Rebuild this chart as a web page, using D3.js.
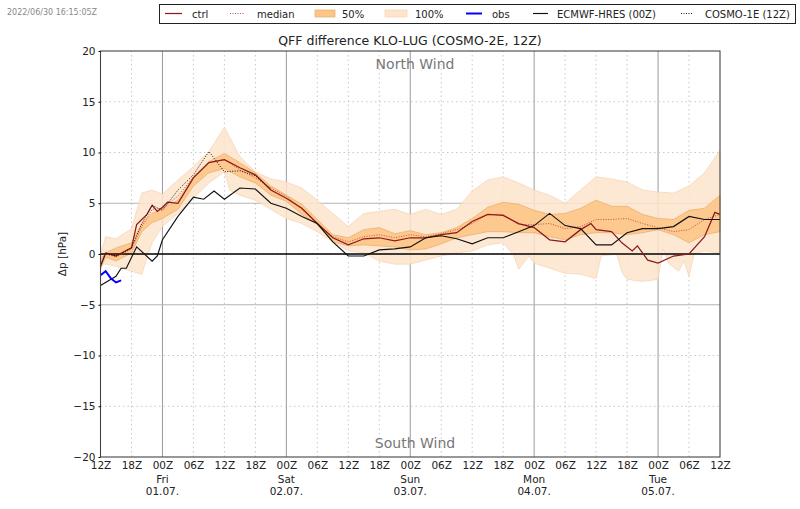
<!DOCTYPE html>
<html>
<head>
<meta charset="utf-8">
<script src="https://cdn.jsdelivr.net/npm/d3@7"></script>
<style>
  html, body { margin: 0; padding: 0; background: #fff; }
  svg { display: block; }
  text { font-family: "DejaVu Sans", sans-serif; fill: #222; }
  .domain { display: none; }
</style>
</head>
<body>
<div class="chart"></div>
<script>
// forecast hours since 30.06. 12Z
var hours = [0,1,3,6,8,10,12,15,18,21,24,27,30,33,36,39,42,45,48,51,54,57,60,63,66,69,72,75,78,81,84,87,90,93,96,99,102,105,108,111,114,117,120]
var upper100 = [0,1.7,1.5,2.5,6,6.3,5.9,7.3,8.6,10.1,12.5,9.6,8.1,7.4,7.1,6.5,5.3,4,2.7,4,4.2,4.4,3.9,4.4,3.9,4.4,6.2,7.3,7.6,7,6.3,5.8,5,6.3,7.6,7.4,7.1,6.3,6.1,6,6.7,8,10.2]
var upper50 = [-.5,.1,.6,1.1,3,4,4.5,5.3,7.6,9.1,9.9,9,8,6.7,5.8,4.9,3.4,1.9,1.6,2.4,2.6,2,2.3,1.9,2.1,2.6,3.5,4.6,5.1,4.9,4.3,3.9,4,4.5,5.3,4.7,4.7,3.9,3.5,3.4,4.3,4.5,5.8]
var lower50 = [-1.5,-.3,-.7,.1,2.2,3.1,3.5,4.4,6.7,8,8.4,7.6,7,5.8,5.2,3.9,2.9,1.2,.8,.9,.8,.7,.4,.5,1,1.6,1.9,2.2,2.2,2.1,2.1,1.7,1.4,1.9,2.1,2.1,1.9,2.1,2.4,1.9,1.1,1.9,2.2]
var median = [-1,0,-.3,.5,2.7,4.4,4.5,5.7,7.6,9,9.3,8.3,7.5,6.5,5.7,4.4,3,1.7,1.2,1.7,1.9,1.6,1.9,1.7,2,2.4,3,3.9,3.9,2.9,2.9,3,2.5,2.7,3.4,3.4,3.5,3,2.6,2.2,2.4,3.4,3.9]

var lower100Hours = [0,1,3,6,8,10,12,15,18,21,24,25,27,30,33,36,39,42,45,48,51,54,57,60,63,66,69,72,75,78,80,81,83,84,87,90,93,96,97,100,101,102,105,108,109,110,112,113,114,115,117,120]
var lower100 = [-1,-1,-1.2,-1.7,-2,1.1,2.7,4,5.5,7,8.1,6.3,5.8,5.3,4.4,3.5,3,2.2,1.2,.3,.1,-.7,-1,-1,-.6,-.2,.1,.3,.9,1.1,-.1,-1.5,-.2,-.9,-1.4,-1.9,-2,-2.4,-.2,0,-1.8,-2.5,-2.7,-2.5,.5,-.9,-1.7,-.7,-2.2,0,.3,.1]

var ctrlHours = [0,1,3,6,7,9,10,11,12,13,15,18,21,24,27,30,33,36,39,42,45,48,51,54,57,60,63,66,69,72,75,78,81,84,87,90,93,95,96,99,101,103,104,106,108,111,114,117,119,120]
var ctrl = [-1.2,.1,-.2,.6,2.9,3.9,4.8,4.2,4.6,5.1,5,7.5,9,9.3,8.5,7.8,6.3,5.5,4.5,3,1.6,.9,1.5,1.6,1.3,1.6,1.6,1.9,2.1,3.2,3.9,3.8,3,2.6,1.4,1.2,2.4,3,2.4,2.2,1.1,.3,.8,-.6,-.9,-.2,0,1.7,4.1,3.9]

var hresHours = [0,3,4,5,7,10,11,12,15,18,20,22,24,27,30,33,36,39,42,45,48,51,54,57,60,63,66,69,72,75,78,81,84,87,90,93,96,99,102,105,108,111,114,117,120]
var hres = [-3.1,-2.2,-1.4,-1.4,.7,-.7,-.2,1.4,3.7,5.6,5.4,6.2,5.4,6.5,6.4,5,4.5,3.7,3,1.2,-.2,-.2,.4,.5,.7,1.6,1.8,1.5,1,1.6,1.6,2.2,2.8,4,2.8,2.5,.9,.9,2.1,2.5,2.5,2.7,3.7,3.4,3.4]

var cosmoHours = [0,1,3,6,8,10,12,15,18,21,24,27,30,33]
var cosmo = [-1.2,.1,-.2,.6,3,4.8,4.3,6.3,7.8,10.1,8.1,8.2,7.7,6.4]

var obsHours = [0,1,2,3,4]
var obs = [-2.1,-1.7,-2.4,-2.8,-2.6]

var xTickHours = d3.range(0, 121, 6)
var xTickLabels = ['12Z','18Z','00Z','06Z','12Z','18Z','00Z','06Z','12Z','18Z','00Z','06Z','12Z','18Z','00Z','06Z','12Z','18Z','00Z','06Z','12Z']
var dayHours = [12,36,60,84,108]
var dayNames = ['Fri','Sat','Sun','Mon','Tue']
var dayDates = ['01.07.','02.07.','03.07.','04.07.','05.07.']
var yTicks = [-20,-15,-10,-5,0,5,10,15,20]

var legendNames = ['ctrl','median','50%','100%','obs','ECMWF-HRES (00Z)','COSMO-1E (12Z)']
var legendStart = [165,230,315,385,466,533,681]
var legendEnd = [182,245,335,407,482,548,693]
var legendText = [192,257,342,415,492,557,705]

var colCtrl = '#8b1a1a', colMedian = '#c8503c', col50 = '#fdc586', col100 = '#fde4cb', colObs = '#0000ff'

var margin = {top: 51, right: 80, bottom: 52, left: 100.5},
    width = 800,
    height = 509

var x = d3.scaleLinear().domain([0, 120]).range([margin.left, width - margin.right])
var y = d3.scaleLinear().domain([-20, 20]).range([height - margin.bottom, margin.top])

var svg = d3.select('.chart').append('svg')
    .attr('width', width)
    .attr('height', height)

// grid
svg.append('g').selectAll('line')
  .data(xTickHours.slice(1, -1))
  .enter().append('line')
    .attr('x1', function(d) { return x(d) })
    .attr('x2', function(d) { return x(d) })
    .attr('y1', y(-20))
    .attr('y2', y(20))
    .attr('stroke', function(d) { return (d - 12) % 24 === 0 ? '#9a9a9a' : '#c8c8c8' })
    .attr('stroke-width', 1)
    .attr('stroke-dasharray', function(d) { return (d - 12) % 24 === 0 ? null : '1.5,3' })

svg.append('g').selectAll('line')
  .data(yTicks.slice(1, -1))
  .enter().append('line')
    .attr('x1', x(0))
    .attr('x2', x(120))
    .attr('y1', function(d) { return y(d) })
    .attr('y2', function(d) { return y(d) })
    .attr('stroke', function(d) { return Math.abs(d) === 5 ? '#b4b4b4' : '#c8c8c8' })
    .attr('stroke-width', 1)
    .attr('stroke-dasharray', function(d) { return Math.abs(d) === 5 ? null : '1.5,3' })

// ensemble bands, outline runs along the upper edge and back along the lower one
var band = function(upperHours, upper, lowerHours, lower) {
  var pts = upperHours.map(function(h, i) { return [x(h), y(upper[i])] })
  var back = lowerHours.map(function(h, i) { return [x(h), y(lower[i])] }).reverse()
  return d3.line()(pts.concat(back)) + 'Z'
}

svg.append('path').attr('d', band(hours, upper100, lower100Hours, lower100))
    .attr('fill', col100).attr('fill-opacity', 0.85)
    .attr('stroke', '#f3d3b3').attr('stroke-width', 0.7)
svg.append('path').attr('d', band(hours, upper50, hours, lower50))
    .attr('fill', col50).attr('fill-opacity', 0.9)
    .attr('stroke', '#e8ab6c').attr('stroke-width', 0.7)

// zero line
svg.append('line')
    .attr('x1', x(0)).attr('x2', x(120))
    .attr('y1', y(0)).attr('y2', y(0))
    .attr('stroke', '#000').attr('stroke-width', 1.5)

var drawLine = function(xs, ys, color, lineWidth, dash) {
  var line = d3.line()
    .x(function(d, i) { return x(xs[i]) })
    .y(function(d) { return y(d) })
  svg.append('path')
      .attr('d', line(ys))
      .attr('fill', 'none')
      .attr('stroke', color)
      .attr('stroke-width', lineWidth)
      .attr('stroke-dasharray', dash)
}

drawLine(hours, median, colMedian, 1, '1,1.5')
drawLine(ctrlHours, ctrl, colCtrl, 1.25, null)
drawLine(hresHours, hres, '#111', 1.15, null)
drawLine(cosmoHours, cosmo, '#000', 0.9, '1,1.5')
drawLine(obsHours, obs, colObs, 2, null)

// frame
svg.append('rect')
    .attr('x', x(0)).attr('y', y(20))
    .attr('width', x(120) - x(0)).attr('height', y(-20) - y(20))
    .attr('fill', 'none').attr('stroke', '#444').attr('stroke-width', 1.1)

// axes
var xAxis = svg.append('g')
    .attr('transform', 'translate(0,' + y(-20) + ')')
    .call(d3.axisBottom(x)
      .tickValues(xTickHours)
      .tickSize(0)
      .tickPadding(5)
      .tickFormat(function(d, i) { return xTickLabels[i] }))
xAxis.selectAll('text').attr('font-size', 10.5).style('fill', '#222')

var yAxis = svg.append('g')
    .attr('transform', 'translate(' + x(0) + ',0)')
    .call(d3.axisLeft(y)
      .tickValues(yTicks)
      .tickSize(2)
      .tickPadding(3)
      .tickFormat(function(d) { return d < 0 ? '\u2212' + Math.abs(d) : d }))
yAxis.selectAll('text').attr('font-size', 10.5).style('fill', '#222')

svg.append('g').selectAll('text')
  .data(dayHours)
  .enter().append('text')
    .attr('x', function(d) { return x(d) })
    .attr('y', 483)
    .attr('text-anchor', 'middle')
    .attr('font-size', 10.5)
    .text(function(d, i) { return dayNames[i] })

svg.append('g').selectAll('text')
  .data(dayHours)
  .enter().append('text')
    .attr('x', function(d) { return x(d) })
    .attr('y', 495)
    .attr('text-anchor', 'middle')
    .attr('font-size', 10.5)
    .text(function(d, i) { return dayDates[i] })

svg.append('text')
    .attr('transform', 'translate(66,254) rotate(-90)')
    .attr('text-anchor', 'middle')
    .attr('font-size', 10.5)
    .text('\u0394p [hPa]')

svg.append('text')
    .attr('x', 410).attr('y', 45)
    .attr('text-anchor', 'middle')
    .attr('font-size', 12.5)
    .text('QFF difference KLO-LUG (COSMO-2E, 12Z)')

svg.append('text')
    .attr('x', 415).attr('y', 69)
    .attr('text-anchor', 'middle')
    .attr('font-size', 14)
    .style('fill', '#777')
    .text('North Wind')

svg.append('text')
    .attr('x', 415).attr('y', 448)
    .attr('text-anchor', 'middle')
    .attr('font-size', 14)
    .style('fill', '#777')
    .text('South Wind')

svg.append('text')
    .attr('x', 7).attr('y', 15)
    .attr('font-size', 8)
    .style('fill', '#888')
    .text('2022/06/30 16:15:05Z')

// legend
svg.append('rect')
    .attr('x', 159.5).attr('y', 4.5)
    .attr('width', 636).attr('height', 19)
    .attr('fill', '#fff').attr('stroke', '#222').attr('stroke-width', 1)

var legendStyle = [
  {stroke: colCtrl, w: 1.25},
  {stroke: colMedian, w: 1, dash: '1,1.5'},
  {fill: col50, edge: '#e8ab6c'},
  {fill: col100, edge: '#f3d3b3'},
  {stroke: colObs, w: 2},
  {stroke: '#111', w: 1.15},
  {stroke: '#000', w: 0.9, dash: '1,1.5'}
]

legendNames.forEach(function(name, i) {
  var s = legendStyle[i]
  if (s.fill) {
    svg.append('rect')
        .attr('x', legendStart[i]).attr('y', 10)
        .attr('width', legendEnd[i] - legendStart[i]).attr('height', 7)
        .attr('fill', s.fill).attr('stroke', s.edge).attr('stroke-width', 0.7)
  } else {
    svg.append('line')
        .attr('x1', legendStart[i]).attr('x2', legendEnd[i])
        .attr('y1', 13.5).attr('y2', 13.5)
        .attr('stroke', s.stroke).attr('stroke-width', s.w)
        .attr('stroke-dasharray', s.dash)
  }
  svg.append('text')
      .attr('x', legendText[i]).attr('y', 17.5)
      .attr('font-size', 10)
      .text(name)
})
</script>
</body>
</html>
